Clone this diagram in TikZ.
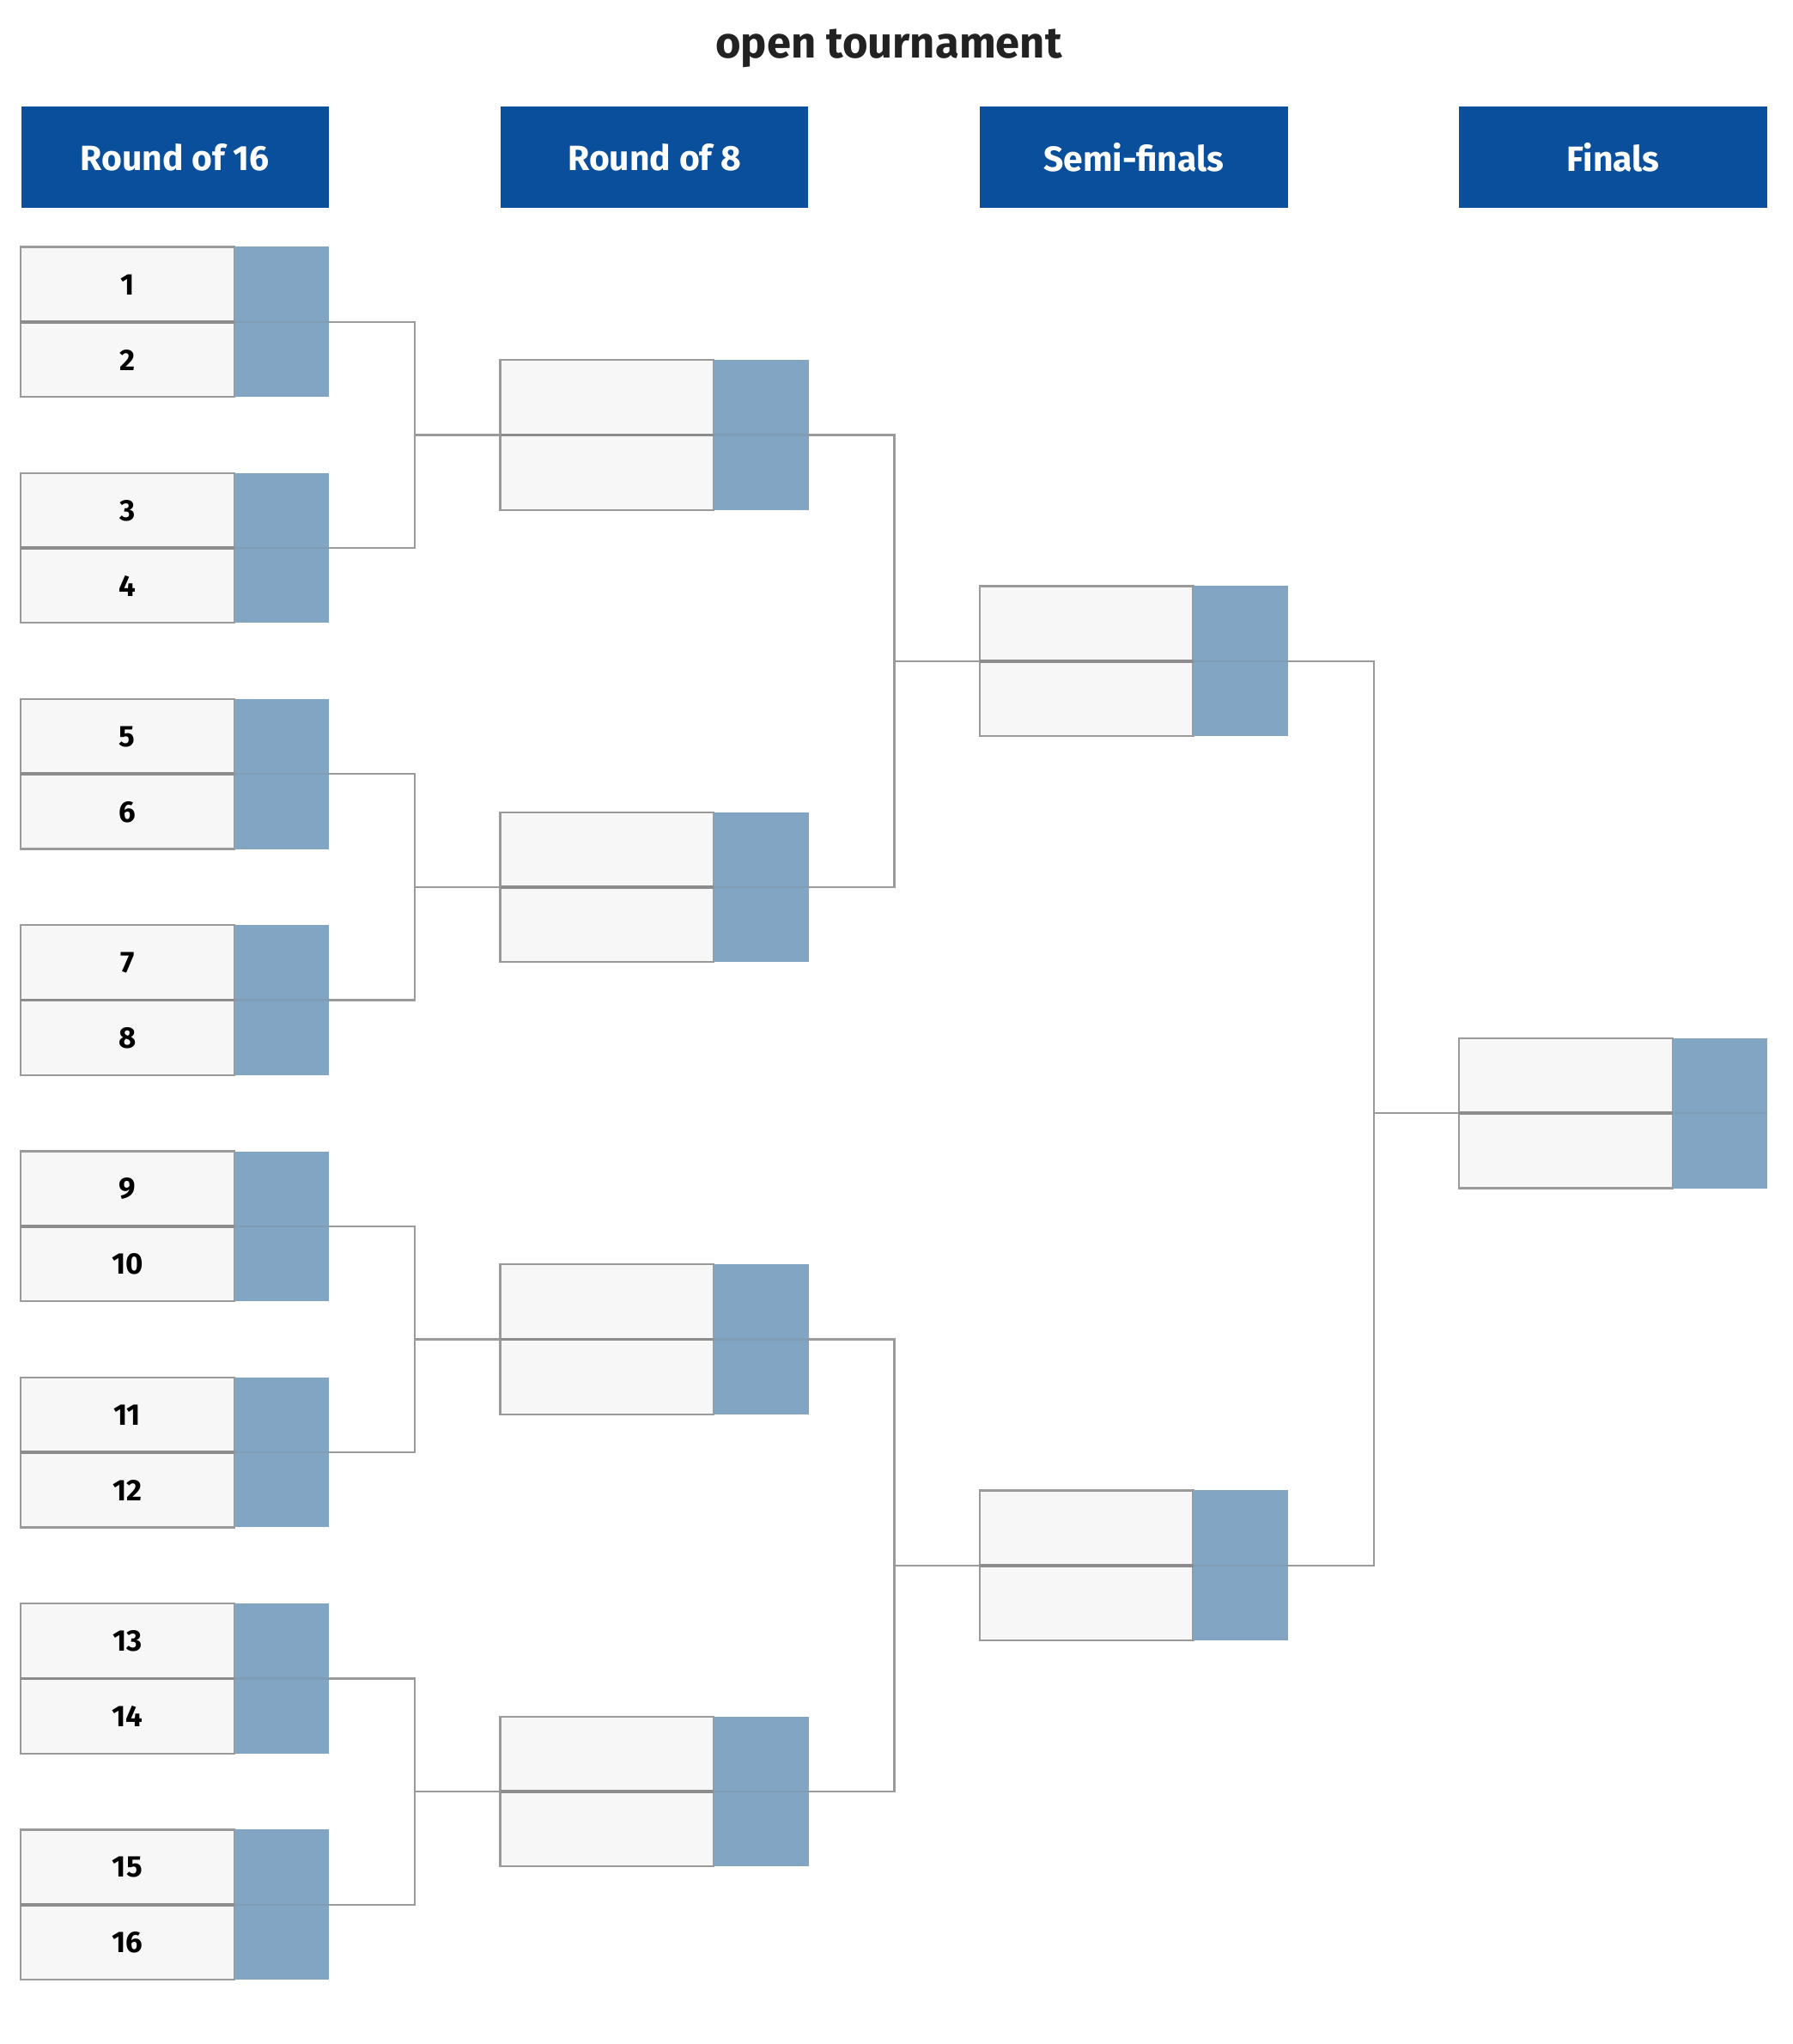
\documentclass[tikz,border=0pt]{standalone}
\usepackage{fontspec}
\setmainfont{Fira Sans}
\usetikzlibrary{calc}
\definecolor{hdrblue}{HTML}{0A4F9C}
\definecolor{namefill}{HTML}{F7F7F7}
\definecolor{scorefill}{HTML}{82A5C4}
\definecolor{edgegray}{HTML}{9A9A9A}
\definecolor{divgray}{HTML}{8C8C8C}
\definecolor{titlecol}{HTML}{222222}
\tikzset{
  hdr/.style={fill=hdrblue, text=white, font=\fontsize{27}{30}\selectfont\bfseries,
    minimum width=237pt, minimum height=78pt, inner sep=0pt, anchor=north west},
  matchbox/.style={minimum width=237pt, minimum height=115pt, inner sep=0pt, anchor=north west},
  namebox/.style={fill=namefill, draw=edgegray, line width=1.5pt},
  scorebox/.style={fill=scorefill},
  divline/.style={draw=divgray, line width=2.5pt},
  conn/.style={draw=edgegray, line width=1.5pt},
  numlbl/.style={font=\fontsize{23}{25}\selectfont\bfseries, text=black, inner sep=0pt},
}
\newcommand{\drawmatch}[1]{%
  \path[namebox] (#1.north west) rectangle ([xshift=-73pt]#1.south east);
  \path[scorebox] ([xshift=-73pt]#1.north east) rectangle (#1.south east);
  \path[divline] (#1.west) -- ([xshift=-73pt]#1.east);
  \draw[draw=scorefill!80!gray, line width=1.5pt] ([xshift=-73pt]#1.east) -- (#1.east);
}
\begin{document}
\begin{tikzpicture}[x=1pt,y=-1pt]
\useasboundingbox[fill=white] (0,0) rectangle (1380,1573);
\node[font=\fontsize{33.5}{36}\selectfont\bfseries, text=titlecol] (title) at (684,37) {open tournament};
\node[hdr] (h1) at (16,82) {Round of 16};
\node[hdr] (h2) at (385,82) {Round of 8};
\node[hdr] (h3) at (754,82) {Semi-finals};
\node[hdr] (h4) at (1123,82) {Finals};
% Round of 16
\foreach \i in {1,...,8}{
  \node[matchbox] (m16-\i) at (16,{190+174*(\i-1)}) {};
  \drawmatch{m16-\i}
  \pgfmathtruncatemacro{\a}{2*\i-1}
  \pgfmathtruncatemacro{\b}{2*\i}
  \node[numlbl] (p\a) at ($(m16-\i.north west)+(82,29)$) {\a};
  \node[numlbl] (p\b) at ($(m16-\i.north west)+(82,87)$) {\b};
}
% Round of 8
\foreach \i in {1,...,4}{
  \node[matchbox] (m8-\i) at (385,{277+348*(\i-1)}) {};
  \drawmatch{m8-\i}
}
% Semi-finals
\foreach \i in {1,2}{
  \node[matchbox] (m4-\i) at (754,{451+696*(\i-1)}) {};
  \drawmatch{m4-\i}
}
% Final
\node[matchbox] (m2-1) at (1123,799) {};
\drawmatch{m2-1}
% connectors
\foreach \i in {1,...,4}{
  \pgfmathtruncatemacro{\a}{2*\i-1}
  \pgfmathtruncatemacro{\b}{2*\i}
  \draw[conn] (m16-\a.east) -- ++(66,0) |- (m16-\b.east);
  \draw[conn] (m8-\i.west) -- ++(-66,0);
}
\foreach \i in {1,2}{
  \pgfmathtruncatemacro{\a}{2*\i-1}
  \pgfmathtruncatemacro{\b}{2*\i}
  \draw[conn] (m8-\a.east) -- ++(66,0) |- (m8-\b.east);
  \draw[conn] (m4-\i.west) -- ++(-66,0);
}
\draw[conn] (m4-1.east) -- ++(66,0) |- (m4-2.east);
\draw[conn] (m2-1.west) -- ++(-66,0);
\end{tikzpicture}
\end{document}
